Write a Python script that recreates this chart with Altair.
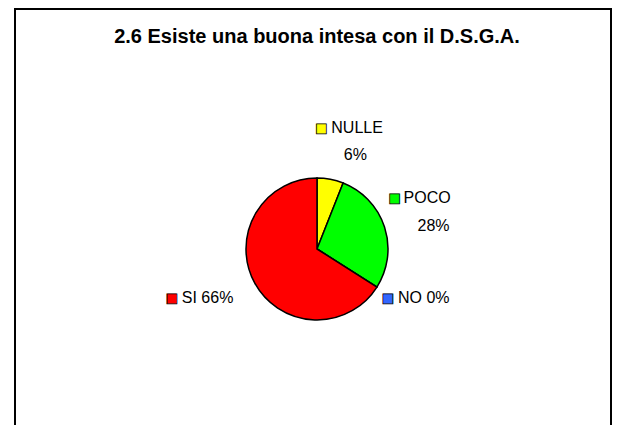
import altair as alt
import pandas as pd

# ---- data ----
categories = ["NULLE", "POCO", "NO", "SI"]
values = [6, 28, 0, 66]
colors = ["#FFFF00", "#00FF00", "#3366FF", "#FF0000"]
title_text = "2.6 Esiste una buona intesa con il D.S.G.A."

df = pd.DataFrame({"cat": categories, "val": values, "idx": list(range(len(categories)))})
df["end"] = df["val"].cumsum()
df["start"] = df["end"] - df["val"]
df["mid"] = (df["start"] + df["end"]) / 2
df["pct"] = df["val"].astype(str) + "%"
df["full"] = df["cat"] + " " + df["pct"]

# ---- layout ----
W, H = 597, 365
CX, CY = 302, 189
R = 71
FONT = "Liberation Sans"
FS = 16

theta_scale = alt.Scale(domain=[0, 100])
color_scale = alt.Scale(domain=categories, range=colors)

one = pd.DataFrame({"t": [title_text]})

frame = alt.Chart(one).mark_rect(
    filled=False, stroke="black", strokeWidth=2
).encode(x=alt.value(0), x2=alt.value(W - 1), y=alt.value(-51), y2=alt.value(600))

title = alt.Chart(one).mark_text(
    font=FONT, fontSize=20, fontWeight="bold", color="black",
    align="center", baseline="middle"
).encode(text="t:N", x=alt.value(CX), y=alt.value(-23))

pie = alt.Chart(df).mark_arc(radius=R, stroke="black", strokeWidth=1.5).encode(
    theta=alt.Theta("start:Q", scale=theta_scale, stack=False),
    theta2="end:Q",
    color=alt.Color("cat:N", scale=color_scale, legend=None),
    x=alt.value(CX),
    y=alt.value(CY),
)


def txt(cat, field, dx, dy, align="left", square=False):
    base = alt.Chart(df).transform_filter(alt.datum.cat == cat)
    if square:
        m = base.mark_text(radius=R, dx=dx, dy=dy, align="center", baseline="middle",
                           font="DejaVu Sans", fontSize=13, stroke="black", strokeWidth=0.8)
        return m.encode(
            theta=alt.Theta("mid:Q", scale=theta_scale, stack=False),
            text=alt.value("\u25A0"),
            color=alt.Color("cat:N", scale=color_scale, legend=None),
            x=alt.value(CX), y=alt.value(CY),
        )
    m = base.mark_text(radius=R, dx=dx, dy=dy, align=align, baseline="middle",
                       font=FONT, fontSize=FS, color="black")
    return m.encode(
        theta=alt.Theta("mid:Q", scale=theta_scale, stack=False),
        text=alt.Text(field),
        x=alt.value(CX), y=alt.value(CY),
    )


labels = [
    txt("NULLE", "", -9, -51, square=True),
    txt("NULLE", "cat:N", 1, -51),
    txt("NULLE", "pct:N", 25, -24, align="center"),
    txt("POCO", "", 10, -29, square=True),
    txt("POCO", "cat:N", 19, -29),
    txt("POCO", "pct:N", 49, -1, align="center"),
    txt("NO", "", 11, 11, square=True),
    txt("NO", "full:N", 21, 11),
    txt("SI", "", -83, 15, square=True),
    txt("SI", "full:N", -73, 15),
]

chart = alt.layer(frame, title, pie, *labels).properties(
    width=W,
    height=H,
    autosize=alt.AutoSizeParams(type="none"),
    padding={"left": 7, "top": 52, "right": 0, "bottom": 0},
).configure_view(stroke=None)

chart.save("out.html", embed_options={"renderer": "svg", "actions": False})
